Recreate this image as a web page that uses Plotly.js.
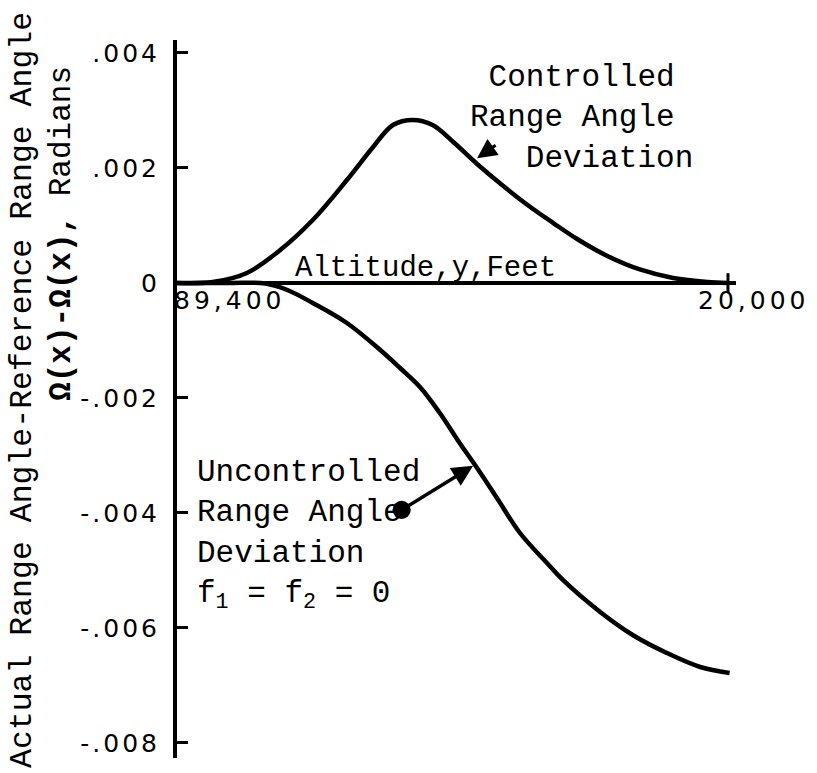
<!DOCTYPE html>
<html>
<head>
<meta charset="utf-8">
<script src="https://cdn.plot.ly/plotly-3.0.1.min.js"></script>
<style>
html,body{margin:0;padding:0;background:#fff;}
#chart{width:817px;height:773px;}
#chart .ytick text{letter-spacing:3px;}
#chart .annotation[data-index="0"] text,
#chart .annotation[data-index="1"] text{letter-spacing:4px;}
</style>
</head>
<body>
<div id="chart"></div>
<script>
// Altitude (feet) for the controlled range angle deviation
var altControlled = [89400, 84900, 80600, 76400, 72300, 68000, 64700, 62200, 59700, 57200, 54600, 51600, 48300, 44900, 42000, 39000, 35200, 31100, 26900, 22600, 20000];
// Controlled deviation (radians)
var devControlled = [0, 0.000017, 0.000174, 0.000574, 0.001096, 0.001791, 0.002365, 0.002748, 0.002835, 0.002748, 0.002452, 0.00207, 0.001687, 0.001322, 0.001043, 0.000765, 0.00047, 0.000235, 0.000087, 0.000017, 0];

// Altitude (feet) for the uncontrolled deviation
var altUncontrolled = [89400, 82700, 78300, 75500, 72300, 68000, 63800, 61300, 58800, 56300, 53800, 51600, 49100, 46200, 42800, 40800, 36100, 32000, 27700, 23500, 19800];
// Uncontrolled deviation (radians), f1 = f2 = 0
var devUncontrolled = [0, 0, -0.00001, -0.000122, -0.000348, -0.000696, -0.001165, -0.001478, -0.001809, -0.002261, -0.002783, -0.003217, -0.003739, -0.004348, -0.00487, -0.005165, -0.005722, -0.006122, -0.006435, -0.006678, -0.006783];

// Axis ticks
var yTickVals = [0.004, 0.002, 0, -0.002, -0.004, -0.006, -0.008];
var yTickText = [".004", ".002", "0", "-.002", "-.004", "-.006", "-.008"];
var xTickVals = [89400, 20000];
var xTickText = ["89,400", "20,000"];

var mono = "Liberation Mono, Courier New, monospace";
var sans = "DejaVu Sans, Arial, sans-serif";
var NB = "\u00a0";

var traces = [
  {x: altControlled, y: devControlled, mode: "lines", line: {color: "#000", width: 4.5, shape: "spline", smoothing: 1}, hoverinfo: "skip"},
  {x: altUncontrolled, y: devUncontrolled, mode: "lines", line: {color: "#000", width: 4.5, shape: "spline", smoothing: 1}, hoverinfo: "skip"},
  {x: [xTickVals[1]], y: [0], mode: "markers", marker: {symbol: "line-ns-open", size: 14, color: "#000", line: {color: "#000", width: 3}}, hoverinfo: "skip"}
];

var layout = {
  width: 817, height: 773,
  margin: {l: 177, r: 81, t: 40, b: 15},
  paper_bgcolor: "#fff", plot_bgcolor: "#fff",
  showlegend: false,
  xaxis: {
    range: [89400, 18990], visible: false, showgrid: false, zeroline: false
  },
  yaxis: {
    range: [-0.008261, 0.004226],
    showgrid: false,
    zeroline: true, zerolinecolor: "#000", zerolinewidth: 4,
    showline: true, linecolor: "#000", linewidth: 4,
    ticks: "inside", ticklen: 11, tickwidth: 3, tickcolor: "#000",
    tickvals: yTickVals, ticktext: yTickText,
    ticklabelstandoff: 8,
    tickfont: {family: sans, size: 25, color: "#000"}
  },
  annotations: [
    {xref: "x", yref: "y", x: xTickVals[0], y: 0, text: xTickText[0], showarrow: false, xanchor: "left", yanchor: "top", xshift: 7, yshift: -1, font: {family: sans, size: 25, color: "#000"}},
    {xref: "x", yref: "y", x: xTickVals[1], y: 0, text: xTickText[1], showarrow: false, xanchor: "center", yanchor: "top", xshift: 26, yshift: -1, font: {family: sans, size: 25, color: "#000"}},
    {xref: "paper", yref: "y", x: 0.208, y: 0, text: "Altitude,y,Feet", showarrow: false, xanchor: "left", yanchor: "bottom", yshift: -4, font: {family: mono, size: 29, color: "#000"}},
    {xref: "paper", yref: "paper", x: -0.2773, y: 0.5125, text: "Actual Range Angle-Reference Range Angle", textangle: -90, showarrow: false, xanchor: "center", yanchor: "middle", font: {family: mono, size: 31.5, color: "#000"}},
    {xref: "paper", yref: "paper", x: -0.2057, y: 0.73, text: "<b>\u03a9(x)-\u03a9(x),</b> Radians", textangle: -90, showarrow: false, xanchor: "center", yanchor: "middle", font: {family: mono, size: 31, color: "#000"}},
    {xref: "paper", yref: "paper", x: 0.52, y: 0.891, text: NB + "Controlled<br>Range Angle<br>" + NB + NB + NB + "Deviation", showarrow: false, xanchor: "left", yanchor: "middle", align: "left", font: {family: mono, size: 31, color: "#000"}},
    {xref: "paper", yref: "paper", x: 0.033, y: 0.311, text: "Uncontrolled<br>Range Angle<br>Deviation<br>f<sub>1</sub> = f<sub>2</sub> = 0", showarrow: false, xanchor: "left", yanchor: "middle", align: "left", font: {family: mono, size: 31, color: "#000"}},
    {xref: "x", yref: "y", x: 52100, y: -0.00318, ax: -73, ay: 45, text: "", showarrow: true, arrowhead: 2, arrowsize: 1.2, arrowwidth: 3.5, arrowcolor: "#000", arrowside: "end+start", startarrowhead: 6, startarrowsize: 1.3},
    {xref: "x", yref: "y", x: 51600, y: 0.00217, ax: 20, ay: -14, text: "", showarrow: true, arrowhead: 2, arrowsize: 1.3, arrowwidth: 3, arrowcolor: "#000"}
  ]
};

Plotly.newPlot("chart", traces, layout, {staticPlot: true, displayModeBar: false});
</script>
</body>
</html>
